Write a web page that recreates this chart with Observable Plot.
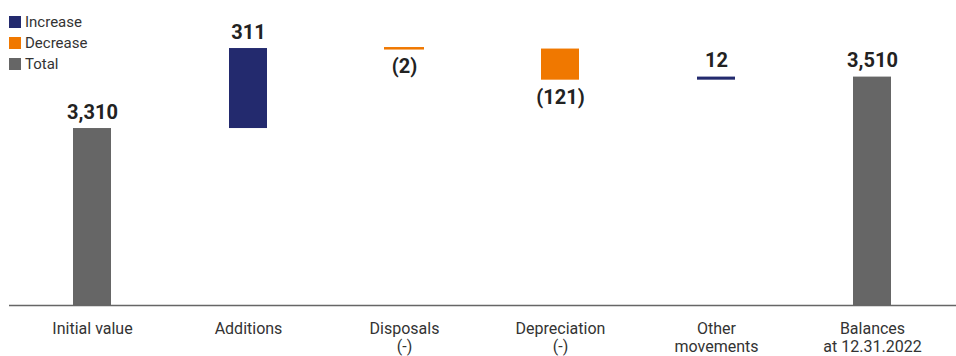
<!DOCTYPE html>
<html>
<head>
<meta charset="utf-8">
<script src="https://cdn.jsdelivr.net/npm/d3@7"></script>
<script src="https://cdn.jsdelivr.net/npm/@observablehq/plot@0.6"></script>
<style>
  html, body { margin: 0; padding: 0; background: #fff; }
  #wrap { position: relative; width: 956px; height: 356px; font-family: Roboto, "Liberation Sans", sans-serif; }
  #legend { position: absolute; left: 9px; top: 11px; font-size: 15px; color: #333; }
  .item { display: flex; align-items: center; height: 21px; }
  .sw { width: 12px; height: 12px; margin-right: 4px; }
</style>
</head>
<body>
<div id="wrap"><div id="legend"></div></div>
<script>
const categories = ["Initial value", "Additions", "Disposals\n(-)", "Depreciation\n(-)", "Other\nmovements", "Balances\nat 12.31.2022"];
const values = [3310, 311, -2, -121, 12, 3510];
const kinds = ["Total", "Increase", "Decrease", "Decrease", "Increase", "Total"];
const valueLabels = ["3,310", "311", "(2)", "(121)", "12", "3,510"];
const legendKinds = ["Increase", "Decrease", "Total"];
const legendColors = ["#232a6e", "#f07800", "#666666"];

let run = 0;
const data = categories.map((c, i) => {
  const k = kinds[i];
  let y1, y2;
  if (k === "Total") { y1 = 0; y2 = values[i]; run = values[i]; }
  else { y1 = run; y2 = run + values[i]; run = y2; }
  return { cat: c, kind: k, y1, y2, label: valueLabels[i], top: Math.max(y1, y2), bottom: Math.min(y1, y2), neg: values[i] < 0 };
});

const yMin = 2622;
const chart = Plot.plot({
  width: 956,
  height: 356,
  marginTop: 20,
  marginBottom: 51,
  marginLeft: 13,
  marginRight: 5,
  style: { fontFamily: "Roboto, 'Liberation Sans', sans-serif", background: "transparent" },
  x: { type: "band", domain: categories, padding: 0, label: null, axis: null },
  y: { domain: [yMin, 3730], axis: null },
  color: { domain: legendKinds, range: legendColors },
  marks: [
    Plot.axisX({ tickSize: 0, tickPadding: 16, fontSize: 16, fill: "#333", lineHeight: 1.1, label: null }),
    Plot.barY(data, {
      x: "cat", y1: "y1", y2: "y2", fill: "kind", stroke: "kind",
      strokeWidth: d => Math.abs(d.y2 - d.y1) < 5 ? 2 : 0,
      insetLeft: 59, insetRight: 59, clip: true
    }),
    Plot.ruleY([yMin], { stroke: "#666", strokeWidth: 1.5, insetLeft: -4, insetRight: -5 }),
    Plot.text(data.filter(d => !d.neg), {
      x: "cat", y: "top", text: "label", lineAnchor: "bottom", dy: -10,
      fontSize: 20, fontWeight: "bold", fill: "#222"
    }),
    Plot.text(data.filter(d => d.neg), {
      x: "cat", y: "bottom", text: "label", lineAnchor: "top", dy: 10,
      fontSize: 20, fontWeight: "bold", fill: "#222"
    })
  ]
});
const wrap = document.getElementById("wrap");
wrap.insertBefore(chart, wrap.firstChild);

const legend = document.getElementById("legend");
legendKinds.forEach((k, i) => {
  const it = document.createElement("div");
  it.className = "item";
  it.innerHTML = `<span class="sw" style="background:${legendColors[i]}"></span><span>${k}</span>`;
  legend.appendChild(it);
});
</script>
</body>
</html>
